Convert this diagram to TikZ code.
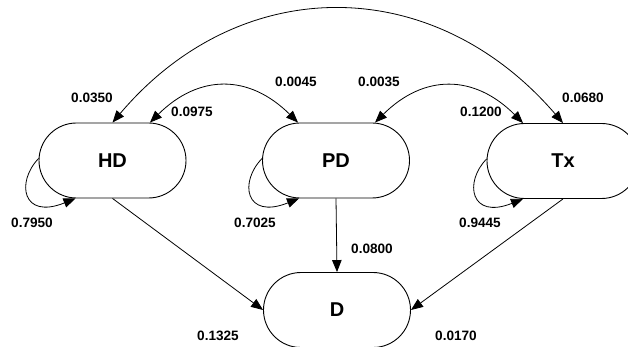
\documentclass[tikz,border=0pt]{standalone}
\usepackage{fontspec}
\setmainfont{Liberation Sans}
\usetikzlibrary{shapes.misc,arrows.meta}
\begin{document}
\begin{tikzpicture}[x=1pt,y=-1pt,
  state/.style={draw, line width=0.9pt, rounded rectangle, minimum width=147pt, minimum height=75pt, inner sep=0pt, font=\fontsize{20}{20}\selectfont\bfseries},
  arr/.style={line width=0.8pt, -{Triangle[length=12pt,width=9.5pt]}},
  darr/.style={line width=0.8pt, {Triangle[length=12pt,width=9.5pt]}-{Triangle[length=12pt,width=9.5pt]}},
  lbl/.style={font=\fontsize{13.6}{13.6}\selectfont\bfseries, inner sep=0pt}]
\useasboundingbox (0,0) rectangle (628,347);
\fill[white] (0,0) rectangle (628,347);
\clip (0,0) rectangle (628,347);
\node[state] (HD) at (112.5,160.5) {HD};
\node[state] (PD) at (336,160.5) {PD};
\node[state, minimum width=152pt] (Tx) at (563,161) {Tx};
\node[state] (D) at (337,310) {D};
% straight transitions
\draw[arr] (HD.south) -- (D.west);
\draw[arr] (PD.south) -- (D.north);
\draw[arr] (Tx.south) -- (D.east);
% arcs on top
\draw[darr] (Tx.north) .. controls (433,-28) and (240,-28) .. (HD.north);
\draw[darr] ([xshift=37.5pt]HD.north) .. controls (199,74) and (249,74) .. ([xshift=-38pt]PD.north);
\draw[darr] ([xshift=39pt]PD.north) .. controls (424,74) and (474,74) .. ([xshift=-40pt]Tx.north);
% self loops
\draw[arr] ([yshift=2pt]HD.west) .. controls (16,182) and (22,220) .. ([xshift=-37pt]HD.south);
\draw[arr] ([yshift=2pt]PD.west) .. controls (239,182) and (245,220) .. ([xshift=-37pt]PD.south);
\draw[arr] ([yshift=2pt]Tx.west) .. controls (464,182) and (470,220) .. ([xshift=-40pt]Tx.south);
% labels
\node[lbl] (l1) at (92,98) {0.0350};
\node[lbl] (l2) at (192,112) {0.0975};
\node[lbl] (l3) at (296,82) {0.0045};
\node[lbl] (l4) at (379,82) {0.0035};
\node[lbl] (l5) at (481,112) {0.1200};
\node[lbl] (l6) at (583,98) {0.0680};
\node[lbl] (l7) at (32,223) {0.7950};
\node[lbl] (l8) at (255,223) {0.7025};
\node[lbl] (l9) at (480,223) {0.9445};
\node[lbl] (l10) at (372,249) {0.0800};
\node[lbl] (l11) at (218,336) {0.1325};
\node[lbl] (l12) at (456,336) {0.0170};
\end{tikzpicture}
\end{document}
